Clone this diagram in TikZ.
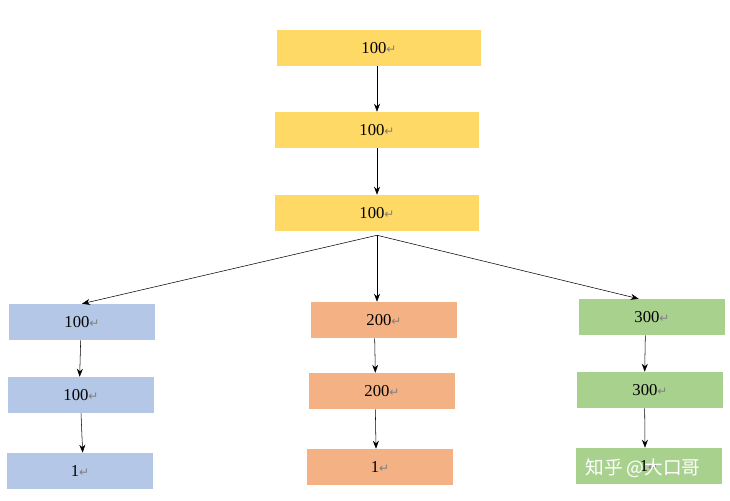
\documentclass[tikz,border=0pt]{standalone}
\usepackage{fontspec}
\setmainfont{Liberation Serif}
\newfontfamily\symfont{DejaVu Sans}
\newfontfamily\cjk{Noto Sans CJK SC}
\usetikzlibrary{positioning,arrows.meta}
\definecolor{boxyellow}{HTML}{FFD966}
\definecolor{boxblue}{HTML}{B4C7E7}
\definecolor{boxorange}{HTML}{F4B183}
\definecolor{boxgreen}{HTML}{A9D18E}
\newcommand{\ret}{{\symfont\fontsize{9}{9}\selectfont\textcolor{gray}{↵}}}
\tikzset{
  valbox/.style={minimum width=109pt, minimum height=27pt, inner sep=0pt, font=\fontsize{12.5}{14}\selectfont},
  flow/.style={-{Stealth[length=6pt,width=4.5pt]}, thin}
}
\begin{document}
\begin{tikzpicture}[x=0.75pt,y=-0.75pt]
      \useasboundingbox (0,0) rectangle (730,500);

      % Top chain
      \node[valbox, fill=boxyellow, minimum width=153pt] (y1) at (379,48) {100\ret};
      \node[valbox, fill=boxyellow, minimum width=153pt] (y2) at (377,130) {100\ret};
      \node[valbox, fill=boxyellow, minimum width=153pt] (y3) at (377,213) {100\ret};

      % Left column
      \node[valbox, fill=boxblue] (b1) at (82,322) {100\ret};
      \node[valbox, fill=boxblue] (b2) at (81,395) {100\ret};
      \node[valbox, fill=boxblue] (b3) at (80,471) {1\ret};

      % Middle column
      \node[valbox, fill=boxorange] (o1) at (384,320) {200\ret};
      \node[valbox, fill=boxorange] (o2) at (382,391) {200\ret};
      \node[valbox, fill=boxorange] (o3) at (380,467) {1\ret};

      % Right column
      \node[valbox, fill=boxgreen] (g1) at (652,317) {300\ret};
      \node[valbox, fill=boxgreen] (g2) at (650,390) {300\ret};
      \node[valbox, fill=boxgreen] (g3) at (649,466) {1\ret};

      % Arrows
      \draw[flow] (y1.south -| y2) -- (y2);
      \draw[flow] (y2) -- (y3);
      \coordinate (split) at ([yshift=-3]y3.south);
      \draw[flow] (split) -- (b1.north);
      \draw[flow] (split) -- (o1.north -| split);
      \draw[flow] (split) -- ([xshift=-10]g1.north);
      \draw[flow] ([xshift=-1]b1.south) -- ([xshift=-1]b2.north);
      \draw[flow] (b2.south) -- ([xshift=2]b3.north);
      \draw[flow] ([xshift=-7]o1.south) -- ([xshift=-5]o2.north);
      \draw[flow] ([xshift=-5]o2.south) -- ([xshift=-3]o3.north);
      \draw[flow] ([xshift=-5]g1.south) -- ([xshift=-4]g2.north);
      \draw[flow] ([xshift=-4]g2.south) -- ([xshift=-3]g3.north);

      % Watermark
      \node[text=white, font=\cjk\fontsize{14}{16}\selectfont] (mark) at (643,468) {知乎 @大口哥};
\end{tikzpicture}
\end{document}
